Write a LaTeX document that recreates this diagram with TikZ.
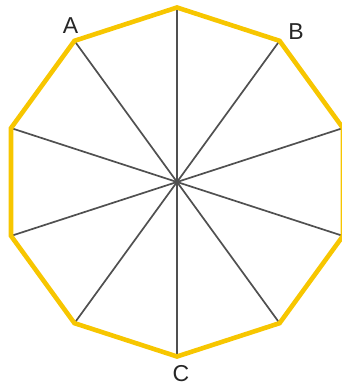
\documentclass[tikz,border=0pt]{standalone}
\usepackage{fontspec}
\setmainfont{Liberation Sans}
\definecolor{rimyellow}{HTML}{F7C600}
\definecolor{spokegray}{HTML}{505050}
\begin{document}
\begin{tikzpicture}[x=0.5pt,y=0.5pt,
  rim/.style={rimyellow,line width=2.3pt,line join=miter},
  spoke/.style={spokegray,line width=0.85pt},
  vlabel/.style={font=\fontsize{11.5}{13}\selectfont,text=black!85,inner sep=0pt}]
\useasboundingbox (0,0) rectangle (342,385);
\clip (0,0) rectangle (342,385);

\def\cx{177}
\def\cy{203}
\def\R{174.5}

% vertices of the decagon
\coordinate (O) at (\cx,\cy);
\foreach \k in {0,...,9}{
  \coordinate (v\k) at ({\cx+\R*cos(90+36*\k)},{\cy+\R*sin(90+36*\k)});
}

% diagonals through the centre
\foreach \k in {0,...,4}{
  \pgfmathtruncatemacro{\m}{\k+5}
  \draw[spoke] (v\k) -- (v\m);
}

% rim
\draw[rim] (v0) \foreach \k in {1,...,9}{ -- (v\k) } -- cycle;

% labels
\node[vlabel] (labA) at (70.5,359) {A};
\node[vlabel] (labB) at (296,353) {B};
\node[vlabel] (labC) at (181,11) {C};
\end{tikzpicture}
\end{document}
